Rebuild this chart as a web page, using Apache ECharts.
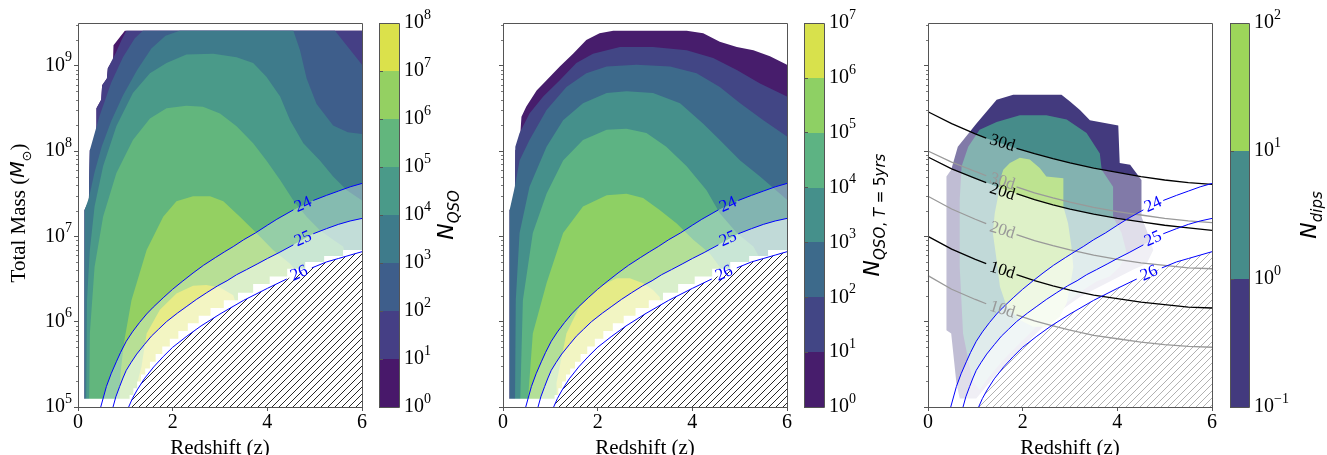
<!DOCTYPE html>
<html>
<head>
<meta charset="utf-8">
<script src="https://cdn.jsdelivr.net/npm/echarts@6.0.0/dist/echarts.min.js"></script>
<style>html,body{margin:0;padding:0;background:#fff;}#chart{width:1327px;height:455px;}</style>
</head>
<body>
<div id="chart"></div>
<script>
// x values: redshift z ; y values: log10(total mass / M_sun)
const xTicks = [0, 2, 4, 6];
const massTickExps = [5, 6, 7, 8, 9];
const minorMultipliers = [2, 3, 4, 5, 6, 7, 8, 9];
const cbarQsoExps = [0, 1, 2, 3, 4, 5, 6, 7, 8];
const cbarQso5Exps = [0, 1, 2, 3, 4, 5, 6, 7];
const cbarDipExps = [-1, 0, 1, 2];
const qsoColors = ['#48186a', '#453f85', '#3e5e8b', '#3e7b8b', '#4a9a89', '#62b67d', '#94d062', '#dbe14b'];
const qso5Colors = ['#471d6c', '#424685', '#3d6a8b', '#45908b', '#5db383', '#8ed064', '#d8e14c'];
const dipColors = ['#433a7e', '#468c8a', '#9dd55a'];

// ---- panel 1: N_QSO filled contour regions (N >= 10^k), boundary points
const qsoL0 = [[0.14,4.8],[0.14,7.31],[0.23,7.41],[0.25,8.01],[0.39,8.09],[0.39,8.5],[0.49,8.6],[0.51,8.77],[0.61,8.85],[0.63,8.97],[0.74,9.07],[0.75,9.24],[0.99,9.41],[6.0,9.41],[6.0,4.8]];
const qsoL1 = [[0.14,4.8],[0.14,7.31],[0.23,7.41],[0.25,8.01],[0.39,8.09],[0.39,8.5],[0.49,8.6],[0.51,8.77],[0.61,8.85],[0.63,8.97],[0.8,9.15],[0.92,9.3],[1.02,9.41],[6.0,9.41],[6.0,4.8]];
const qsoL2 = [[0.14,4.8],[0.14,7.31],[0.23,7.41],[0.25,8.01],[0.45,8.4],[0.7,8.8],[0.95,9.1],[1.2,9.32],[1.37,9.41],[5.43,9.41],[6.0,9.01],[6.0,4.8]];
const qsoL3 = [[0.14,4.8],[0.14,7.31],[0.23,7.45],[0.35,7.75],[0.5,8.05],[0.7,8.35],[0.95,8.65],[1.25,8.95],[1.55,9.2],[1.85,9.35],[2.15,9.41],[4.55,9.41],[4.69,9.18],[4.83,8.85],[5.04,8.55],[5.39,8.3],[5.7,8.22],[6.0,8.2],[6.0,4.8]];
const qsoL4 = [[0.17,4.8],[0.19,6.25],[0.25,6.84],[0.35,7.35],[0.53,7.82],[0.81,8.29],[1.16,8.68],[1.52,8.91],[1.87,9.03],[2.29,9.13],[2.86,9.14],[3.35,9.1],[3.7,9.03],[3.98,8.87],[4.27,8.64],[4.48,8.36],[4.76,8.09],[5.11,7.89],[5.39,7.7],[5.68,7.54],[6.0,7.42],[6.0,4.8]];
const qsoL5 = [[0.23,4.8],[0.25,5.86],[0.35,6.64],[0.53,7.23],[0.81,7.74],[1.16,8.13],[1.52,8.38],[1.87,8.5],[2.29,8.53],[2.64,8.52],[3.0,8.44],[3.35,8.29],[3.7,8.09],[3.98,7.89],[4.27,7.66],[4.55,7.42],[4.83,7.23],[5.11,7.07],[5.39,6.96],[5.6,6.88],[5.75,6.6],[5.75,4.8]];
const qsoL6 = [[0.86,4.8],[0.9,5.4],[0.97,5.75],[1.13,6.25],[1.45,6.84],[1.8,7.23],[2.08,7.41],[2.43,7.47],[2.79,7.47],[3.07,7.41],[3.42,7.23],[3.77,7.04],[4.12,6.84],[4.48,6.68],[4.85,6.45],[4.85,4.8]];
const qsoL7 = [[1.22,4.8],[1.26,5.3],[1.34,5.47],[1.45,5.86],[1.73,6.14],[2.08,6.33],[2.43,6.42],[2.71,6.43],[3.0,6.4],[3.28,6.31],[3.4,6.1],[3.4,4.8]];

// ---- panel 2: N_QSO,T=5yrs
const q5L0 = [[0.14,4.8],[0.14,7.31],[0.25,7.39],[0.26,8.01],[0.35,8.07],[0.39,8.4],[0.49,8.52],[0.71,8.71],[0.92,8.83],[1.2,8.99],[1.48,9.14],[1.76,9.3],[2.04,9.38],[2.33,9.41],[3.88,9.41],[4.23,9.38],[4.58,9.28],[4.94,9.22],[5.29,9.18],[5.64,9.11],[6.0,9.01],[6.0,4.8]];
const q5L1 = [[0.14,4.8],[0.14,7.31],[0.25,7.39],[0.26,8.05],[0.35,8.21],[0.56,8.44],[0.85,8.64],[1.2,8.83],[1.55,9.03],[1.9,9.14],[2.47,9.22],[3.17,9.22],[3.88,9.18],[4.44,9.09],[4.94,8.95],[5.43,8.79],[6.0,8.64],[6.0,4.8]];
const q5L2 = [[0.14,4.8],[0.14,7.31],[0.25,7.58],[0.35,7.89],[0.56,8.13],[0.92,8.48],[1.34,8.75],[1.76,8.91],[2.19,8.99],[2.82,9.01],[3.53,8.99],[4.09,8.91],[4.58,8.75],[5.01,8.56],[5.5,8.36],[6.0,8.17],[6.0,4.8]];
const q5L3 = [[0.25,4.8],[0.27,6.25],[0.35,7.04],[0.56,7.58],[0.92,8.05],[1.27,8.36],[1.69,8.56],[2.19,8.68],[2.61,8.7],[3.17,8.68],[3.74,8.56],[4.23,8.32],[4.58,8.13],[5.01,7.89],[5.43,7.7],[6.0,7.43],[6.0,4.8]];
const q5L4 = [[0.35,4.8],[0.42,6.25],[0.63,7.04],[0.92,7.5],[1.27,7.89],[1.69,8.13],[2.19,8.25],[2.61,8.26],[3.03,8.21],[3.45,8.05],[3.88,7.82],[4.3,7.54],[4.58,7.27],[4.94,7.04],[5.29,6.88],[5.57,6.6],[5.57,4.8]];
const q5L5 = [[0.49,4.8],[0.63,5.86],[0.92,6.45],[1.27,7.04],[1.69,7.35],[2.19,7.48],[2.61,7.5],[2.96,7.45],[3.31,7.31],[3.67,7.15],[4.02,6.96],[4.37,6.8],[4.58,6.64],[4.65,6.4],[4.65,4.8]];
const q5L6 = [[1.15,4.8],[1.13,5.28],[1.34,5.86],[1.62,6.18],[2.04,6.41],[2.4,6.51],[2.68,6.51],[2.96,6.45],[3.17,6.37],[3.31,6.29],[3.35,6.1],[3.35,4.8]];

// ---- panel 3: N_dips
const dipL0 = [[0.63,8.05],[1.02,8.32],[1.45,8.6],[1.8,8.66],[2.82,8.66],[3.0,8.58],[3.21,8.48],[3.42,8.36],[4.02,8.3],[4.05,7.86],[4.27,7.84],[4.51,7.66],[4.51,7.23],[4.62,7.07],[4.76,6.84],[4.62,6.68],[4.34,6.61],[4.05,6.53],[3.77,6.45],[3.49,6.37],[3.21,6.29],[2.93,6.18],[2.64,6.06],[2.36,5.9],[2.08,5.75],[1.8,5.59],[1.52,5.43],[1.23,5.24],[1.02,5.1],[0.67,5.1],[0.6,5.28],[0.49,5.86],[0.39,5.9],[0.39,7.7],[0.49,7.78]];
const dipL1 = [[0.85,8.05],[1.09,8.25],[1.45,8.34],[1.94,8.42],[2.5,8.42],[2.93,8.37],[3.35,8.21],[3.63,7.97],[3.67,7.78],[3.91,7.58],[3.91,7.23],[4.09,7.04],[4.2,6.8],[4.05,6.64],[3.84,6.53],[3.56,6.47],[3.28,6.37],[3.0,6.25],[2.71,6.14],[2.43,6.02],[2.15,5.86],[1.87,5.71],[1.59,5.55],[1.3,5.36],[1.09,5.2],[0.95,5.3],[0.88,5.47],[0.74,5.86],[0.67,6.64],[0.67,7.43],[0.71,7.82]];
const dipL2 = [[1.59,7.78],[1.73,7.86],[1.94,7.92],[2.15,7.9],[2.36,7.8],[2.5,7.7],[2.86,7.68],[2.86,7.35],[2.96,7.15],[3.03,6.88],[3.07,6.64],[3.0,6.41],[2.93,6.22],[2.79,6.06],[2.5,5.94],[2.22,5.94],[1.94,6.02],[1.66,6.18],[1.52,6.41],[1.45,6.72],[1.37,7.04],[1.41,7.27],[1.48,7.47],[1.52,7.66]];

// ---- lower edge of the computed region (panels 1, 2): stair steps
const floorStepEndZ = [1.09,1.17,1.25,1.33,1.42,1.52,1.64,1.78,1.94,2.12,2.32,2.55,2.8,3.08,3.38,3.7,4.05,4.42,4.8,5.2,5.6,6.0];
const floorStepLevel = [5.097,5.14,5.22,5.30,5.38,5.45,5.53,5.62,5.71,5.80,5.89,5.98,6.07,6.16,6.25,6.34,6.44,6.53,6.62,6.70,6.77,6.84];

// ---- magnitude-limit curves (split where the inline label sits)
const mag24a = [[0.48,5.0],[0.55,5.14],[0.6,5.24],[0.7,5.39],[0.81,5.53],[0.9,5.64],[1.02,5.77],[1.15,5.88],[1.3,5.99],[1.45,6.09],[1.59,6.17],[1.8,6.28],[2.0,6.38],[2.2,6.47],[2.43,6.57],[2.65,6.66],[2.9,6.75],[3.1,6.82],[3.28,6.88],[3.5,6.96],[3.75,7.04],[4.0,7.13],[4.2,7.2],[4.55,7.31]];
const mag24b = [[4.97,7.42],[5.25,7.48],[5.5,7.53],[5.75,7.58],[6.0,7.62]];
const mag25a = [[0.74,5.0],[0.8,5.12],[0.88,5.24],[0.95,5.34],[1.02,5.43],[1.12,5.52],[1.24,5.62],[1.4,5.73],[1.55,5.83],[1.7,5.91],[1.87,6.0],[2.1,6.1],[2.3,6.18],[2.5,6.26],[2.72,6.34],[2.95,6.42],[3.15,6.48],[3.35,6.55],[3.56,6.61],[3.8,6.68],[4.0,6.74],[4.25,6.81],[4.55,6.9]];
const mag25b = [[4.97,7.03],[5.25,7.09],[5.5,7.14],[5.75,7.18],[6.0,7.21]];
const mag26a = [[1.07,5.0],[1.15,5.1],[1.25,5.2],[1.4,5.33],[1.6,5.47],[1.8,5.59],[2.0,5.7],[2.3,5.83],[2.6,5.95],[3.0,6.09],[3.5,6.25],[4.0,6.39],[4.41,6.5]];
const mag26b = [[4.94,6.63],[5.25,6.7],[5.5,6.74],[5.75,6.78],[6.0,6.82]];
const magLabels = ['24', '25', '26'];
const magLabelPos = [[4.76,7.37],[4.76,6.97],[4.675,6.565]];

// ---- dip-duration curves (panel 3): z grid + log10 mass values
const dayZa = [0, 0.5, 1.0, 1.23];
const dayZb = [1.87, 2.25, 2.64, 3.0, 3.5, 4.0, 4.5, 5.0, 5.5, 6.0];
const day30Black = [8.46,8.32,8.20,8.15, 8.03,7.97,7.91,7.86,7.80,7.75,7.70,7.66,7.63,7.61];
const day20Black = [7.93,7.79,7.68,7.63, 7.50,7.43,7.37,7.32,7.26,7.21,7.17,7.13,7.10,7.07];
const day10Black = [7.00,6.85,6.73,6.68, 6.55,6.48,6.42,6.37,6.31,6.27,6.23,6.20,6.17,6.16];
const day30Gray  = [8.00,7.87,7.76,7.71, 7.58,7.51,7.45,7.40,7.34,7.29,7.25,7.21,7.18,7.16];
const day20Gray  = [7.47,7.32,7.20,7.15, 7.02,6.95,6.89,6.84,6.78,6.73,6.69,6.66,6.63,6.62];
const day10Gray  = [6.54,6.38,6.26,6.21, 6.08,6.01,5.95,5.90,5.84,5.80,5.76,5.73,5.71,5.70];
const dayLabelsBlack = ['30d', '20d', '10d'];
const dayLabelsGray = ['30d', '20d', '10d'];
const dayLabelPosBlack = [[1.57,8.09],[1.57,7.52],[1.57,6.6]];
const dayLabelPosGray = [[1.57,7.64],[1.57,7.07],[1.57,6.14]];

// ====================================================================
const SERIF = '"Liberation Serif", "Times New Roman", serif';
const SANS = '"DejaVu Sans", sans-serif';
const FRAME = '#555';
const YMIN = 5, YMAX = 9.5;

function joinSeg(a, b) { return a.concat(b); }
function dayLine(vals) {
  const a = dayZa.map((z, i) => [z, vals[i]]);
  const b = dayZb.map((z, i) => [z, vals[i + dayZa.length]]);
  return [a, b];
}
function below(curve, lo) {
  const pts = curve.slice();
  pts.push([curve[curve.length - 1][0] + 0.3, lo]);
  pts.push([curve[0][0] - 0.3, lo]);
  return pts;
}
function floorMask() {
  const pts = [];
  let zPrev = -0.3;
  floorStepEndZ.forEach((ze, i) => {
    pts.push([zPrev, floorStepLevel[i]]);
    pts.push([ze, floorStepLevel[i]]);
    zPrev = ze;
  });
  pts.push([6.3, floorStepLevel[floorStepLevel.length - 1]]);
  pts.push([6.3, 4.5]);
  pts.push([-0.3, 4.5]);
  return pts;
}
function hatchPattern(color, width) {
  const s = 7;
  const c = document.createElement('canvas');
  c.width = s; c.height = s;
  const g = c.getContext('2d');
  g.fillStyle = '#fff'; g.fillRect(0, 0, s, s);
  g.strokeStyle = color; g.lineWidth = width;
  g.beginPath();
  g.moveTo(-1, s + 1); g.lineTo(s + 1, -1);
  g.stroke();
  return { image: c, repeat: 'repeat' };
}

function polySeries(g, polys, fills, z) {
  return {
    type: 'custom', xAxisIndex: g, yAxisIndex: g, clip: true, silent: true, z: z,
    data: polys.map(() => [1, 6]),
    renderItem: (params, api) => {
      const poly = polys[params.dataIndex];
      return { type: 'polygon', shape: { points: poly.map(p => api.coord(p)) },
        style: { fill: fills[params.dataIndex], stroke: null } };
    }
  };
}
function lineSeries(g, pts, color, width, z) {
  return { type: 'line', xAxisIndex: g, yAxisIndex: g, data: pts, symbol: 'none', showSymbol: false,
    lineStyle: { color: color, width: width }, silent: true, clip: true, z: z, animation: false };
}
function textSeries(g, texts, positions, color, rotDeg, z) {
  return {
    type: 'custom', xAxisIndex: g, yAxisIndex: g, clip: false, silent: true, z: z,
    data: texts.map(() => [1, 6]),
    renderItem: (params, api) => {
      const p = api.coord(positions[params.dataIndex]);
      return { type: 'text', x: p[0], y: p[1], rotation: rotDeg * Math.PI / 180,
        style: { text: texts[params.dataIndex], fill: color, font: '17px ' + SERIF,
          align: 'center', verticalAlign: 'middle', textAlign: 'center', textVerticalAlign: 'middle' } };
    }
  };
}
const minorVals = [];
massTickExps.forEach(k => minorMultipliers.forEach(m => {
  const v = k + Math.log10(m);
  if (v < YMAX) minorVals.push(v);
}));
function frameSeries(g) {
  return {
    type: 'custom', xAxisIndex: g, yAxisIndex: g, clip: false, silent: true, z: 20,
    data: [[1, 6]],
    renderItem: (params, api) => {
      const tl = api.coord([0, YMAX]), br = api.coord([6, YMIN]);
      const ch = [{ type: 'rect', shape: { x: Math.round(tl[0]) + 0.5, y: Math.round(tl[1]) + 0.5,
        width: Math.round(br[0] - tl[0]), height: Math.round(br[1] - tl[1]) },
        style: { fill: null, stroke: FRAME, lineWidth: 1 } }];
      minorVals.forEach(v => {
        const p = api.coord([0, v]);
        const y = Math.round(p[1]) + 0.5;
        ch.push({ type: 'line', shape: { x1: Math.round(tl[0]) - 2, y1: y, x2: Math.round(tl[0]), y2: y },
          style: { stroke: FRAME, lineWidth: 0.8 } });
      });
      return { type: 'group', children: ch };
    }
  };
}
function cbarSeries(g, exps, colors) {
  const bands = colors.map((c, i) => [exps[i], exps[i + 1]]);
  return [{
    type: 'custom', xAxisIndex: g, yAxisIndex: g, clip: false, silent: true, z: 2,
    data: bands.map(b => [0.5, b[0]]),
    renderItem: (params, api) => {
      const b = bands[params.dataIndex];
      const p0 = api.coord([0, b[1]]), p1 = api.coord([1, b[0]]);
      const y0 = Math.round(p0[1]), y1 = Math.round(p1[1]);
      return { type: 'rect', shape: { x: p0[0], y: y0, width: p1[0] - p0[0], height: y1 - y0 },
        style: { fill: colors[params.dataIndex] } };
    }
  }, {
    type: 'custom', xAxisIndex: g, yAxisIndex: g, clip: false, silent: true, z: 20,
    data: [[0.5, exps[0]]],
    renderItem: (params, api) => {
      const p0 = api.coord([0, exps[exps.length - 1]]), p1 = api.coord([1, exps[0]]);
      return { type: 'rect', shape: { x: Math.round(p0[0]) + 0.5, y: Math.round(p0[1]) + 0.5,
        width: Math.round(p1[0] - p0[0]), height: Math.round(p1[1] - p0[1]) },
        style: { fill: null, stroke: FRAME, lineWidth: 1 } };
    }
  }];
}

const TICK_RICH = {
  b: { fontFamily: SERIF, fontSize: 20, color: '#000', lineHeight: 30, verticalAlign: 'middle' },
  s: { fontFamily: SERIF, fontSize: 14, color: '#000', lineHeight: 15, verticalAlign: 'top' }
};
function powFmt(v) {
  const e = v < 0 ? '\u2212' + (-v) : String(v);
  return '{b|10}{s|' + e + '}';
}

const grids = [
  { left: 78, top: 23, width: 284, height: 384 },
  { left: 379, top: 23, width: 20, height: 384 },
  { left: 503, top: 23, width: 284, height: 384 },
  { left: 804, top: 23, width: 20, height: 384 },
  { left: 928, top: 23, width: 284, height: 384 },
  { left: 1230, top: 23, width: 19, height: 384 }
].map(g => Object.assign({ containLabel: false, outerBoundsMode: 'none', show: false }, g));

const xAxes = [], yAxes = [];
[0, 2, 4].forEach(g => {
  xAxes[g] = { gridIndex: g, type: 'value', min: 0, max: 6, interval: 2, z: 10,
    axisLine: { show: false },
    axisTick: { show: true, length: 4, lineStyle: { color: FRAME }, customValues: xTicks },
    axisLabel: { fontFamily: SERIF, fontSize: 20, color: '#000', margin: 6, customValues: xTicks },
    splitLine: { show: false },
    name: 'Redshift (z)', nameLocation: 'middle', nameGap: 25,
    nameTextStyle: { fontFamily: SERIF, fontSize: 21, color: '#000' } };
  yAxes[g] = { gridIndex: g, type: 'value', min: YMIN, max: YMAX, z: 10,
    axisLine: { show: false },
    axisTick: { show: true, length: 4, lineStyle: { color: FRAME }, customValues: massTickExps },
    axisLabel: { show: g === 0, formatter: powFmt, rich: TICK_RICH, margin: 6, customValues: massTickExps },
    splitLine: { show: false } };
});
[[1, cbarQsoExps], [3, cbarQso5Exps], [5, cbarDipExps]].forEach(([g, exps]) => {
  xAxes[g] = { gridIndex: g, type: 'value', min: 0, max: 1, show: false };
  yAxes[g] = { gridIndex: g, type: 'value', position: 'right', min: exps[0], max: exps[exps.length - 1], z: 10,
    axisLine: { show: false },
    axisTick: { show: true, length: 4, lineStyle: { color: FRAME }, customValues: exps },
    axisLabel: { formatter: powFmt, rich: TICK_RICH, margin: 5, customValues: exps },
    splitLine: { show: false } };
});

const mask = floorMask();
const m24 = joinSeg(mag24a, mag24b), m25 = joinSeg(mag25a, mag25b), m26 = joinSeg(mag26a, mag26b);
const hatchBlack = hatchPattern('#111', 0.9);
const hatchGray = hatchPattern('#a8a8a8', 0.9);

const series = [];
[[0, [qsoL0,qsoL1,qsoL2,qsoL3,qsoL4,qsoL5,qsoL6,qsoL7], qsoColors],
 [2, [q5L0,q5L1,q5L2,q5L3,q5L4,q5L5,q5L6], qso5Colors]].forEach(([g, polys, cols]) => {
  series.push(polySeries(g, polys, cols, 1));
  series.push(polySeries(g, [mask], ['#ffffff'], 2));
  series.push(polySeries(g, [below(m24, 4.5), below(m25, 4.5)],
    ['rgba(255,255,255,0.33)', 'rgba(255,255,255,0.5)'], 3));
  series.push(polySeries(g, [below(m26, 4.5)], [hatchBlack], 4));
  [mag24a, mag24b, mag25a, mag25b, mag26a, mag26b].forEach(s => series.push(lineSeries(g, s, '#0000ff', 1, 6)));
  series.push(textSeries(g, magLabels, magLabelPos, '#0000ff', 24, 7));
  series.push(frameSeries(g));
});
{
  const g = 4;
  const d30k = dayLine(day30Black), d20k = dayLine(day20Black), d10k = dayLine(day10Black);
  const d30g = dayLine(day30Gray), d20g = dayLine(day20Gray), d10g = dayLine(day10Gray);
  series.push(polySeries(g, [dipL0, dipL1, dipL2], dipColors, 1));
  series.push(polySeries(g, [below(joinSeg(d30k[0], d30k[1]), 4.5), below(joinSeg(d20k[0], d20k[1]), 4.5),
    below(m24, 4.5), below(m25, 4.5)],
    ['rgba(255,255,255,0.33)', 'rgba(255,255,255,0.5)', 'rgba(255,255,255,0.5)', 'rgba(255,255,255,0.5)'], 3));
  series.push(polySeries(g, [below(m26, 4.5)], [hatchGray], 4));
  [d30g, d20g, d10g].forEach(d => d.forEach(s => series.push(lineSeries(g, s, '#999999', 1.3, 5))));
  [d30k, d20k, d10k].forEach(d => d.forEach(s => series.push(lineSeries(g, s, '#000000', 1.3, 6))));
  [mag24a, mag24b, mag25a, mag25b, mag26a, mag26b].forEach(s => series.push(lineSeries(g, s, '#0000ff', 1, 6)));
  series.push(textSeries(g, dayLabelsGray, dayLabelPosGray, '#999999', -17, 7));
  series.push(textSeries(g, dayLabelsBlack, dayLabelPosBlack, '#000000', -17, 8));
  series.push(textSeries(g, magLabels, magLabelPos, '#0000ff', 24, 8));
  series.push(frameSeries(g));
}
series.push(...cbarSeries(1, cbarQsoExps, qsoColors));
series.push(...cbarSeries(3, cbarQso5Exps, qso5Colors));
series.push(...cbarSeries(5, cbarDipExps, dipColors));

const NRICH = {
  n: { fontFamily: SANS, fontStyle: 'italic', fontSize: 22, lineHeight: 32, verticalAlign: 'middle', color: '#000' },
  s: { fontFamily: SANS, fontStyle: 'italic', fontSize: 15, lineHeight: 15, verticalAlign: 'bottom', color: '#000' },
  u: { fontFamily: SANS, fontSize: 15, lineHeight: 15, verticalAlign: 'bottom', color: '#000' }
};
function vText(x, y, text, rich) {
  return { type: 'text', x: x, y: y, rotation: Math.PI / 2, silent: true,
    style: { text: text, rich: rich, align: 'center', verticalAlign: 'middle', textAlign: 'center', textVerticalAlign: 'middle' } };
}

const option = {
  animation: false,
  backgroundColor: '#ffffff',
  grid: grids,
  xAxis: xAxes,
  yAxis: yAxes,
  series: series,
  graphic: { elements: [
    vText(19, 213, '{t|Total Mass (}{m|M}{o|\u2299}{t|)}', {
      t: { fontFamily: SERIF, fontSize: 21, color: '#000', lineHeight: 30, verticalAlign: 'middle' },
      m: { fontFamily: SANS, fontStyle: 'italic', fontSize: 19, color: '#000', lineHeight: 30, verticalAlign: 'middle' },
      o: { fontFamily: SANS, fontSize: 13, color: '#000', lineHeight: 13, verticalAlign: 'bottom' }
    }),
    vText(447, 215, '{n|N}{s|QSO}', NRICH),
    vText(873, 215, '{n|N}{s|QSO}{u|, }{s|T}{u| = 5}{s|yrs}', NRICH),
    vText(1310, 215, '{n|N}{s|dips}', NRICH)
  ] }
};

const chart = echarts.init(document.getElementById('chart'), null, { renderer: 'canvas', width: 1327, height: 455 });
chart.setOption(option);
</script>
</body>
</html>
